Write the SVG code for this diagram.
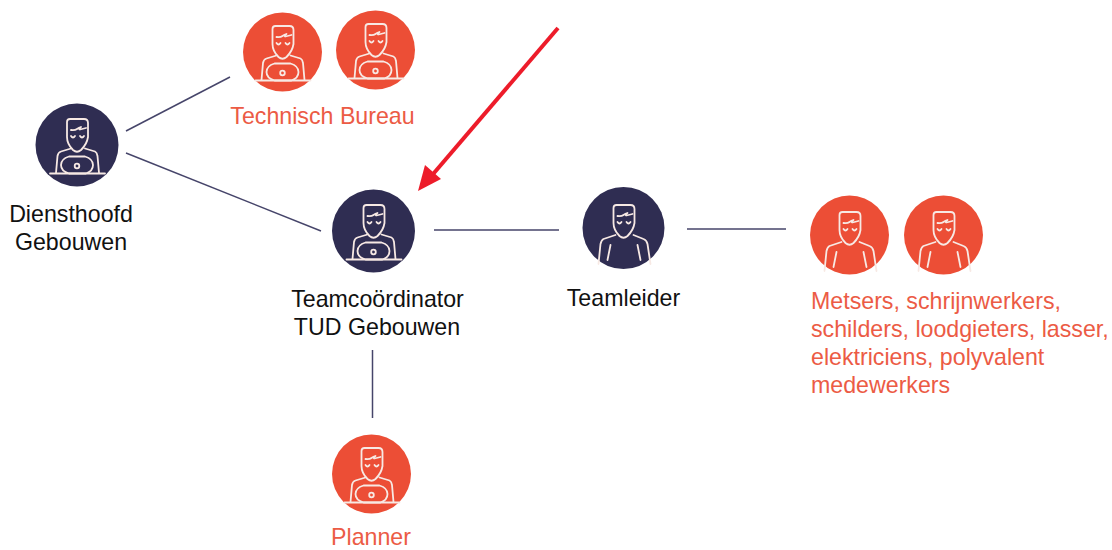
<svg xmlns="http://www.w3.org/2000/svg" xmlns:xlink="http://www.w3.org/1999/xlink" width="1112" height="550" viewBox="0 0 1112 550">
<style>
text{font-family:"Liberation Sans",Arial,sans-serif;font-size:23.2px;text-anchor:middle;fill:#111}
.o{fill:#ec4e36}
.d{fill:#2f2d52}
text.o{fill:#ec5b45}
text.l{text-anchor:start}
.a{fill:none;stroke:#f7e9e4;stroke-width:1.8;stroke-linecap:round;stroke-linejoin:round}
.c{fill:none;stroke:#46456a;stroke-width:1.5}
</style>
<defs>
<g id="head" class="a">
<path d="M-10-8V-23Q-10-26-7-26H7Q11-26 11-22V-8Q10-1 4 5Q0 8.500-4 5Q-10-1-10-8Z"/>
<path d="M-6-15Q-2-14.500 0-16T4-18Q1-16 3-15.500L9-17M-6-9Q-4-6-2-9M3-9Q5-6 7-9"/>
</g>
<g id="lap">
<use href="#head"/>
<g class="a">
<path d="M-6 3.500L-16 6.500Q-19 7.500-19.500 11L-21 28M8 3.500L18 6.500Q20 7.500 20.500 11L22 28"/>
<path d="M-8 11.500H8Q16 14 16 20Q16 26 9 28.500H-8Q-16 26-16 20Q-16 14-8 11.500Z"/>
<circle cx="0" cy="21" r="2.300"/>
<path d="M-27 28.500H28"/>
</g>
</g>
<g id="bust">
<use href="#head" y="3"/>
<path class="a" d="M-8 7L-20 11Q-22 12-23 16L-25 36M10 7L20 11Q23 12 24 16L27 36M-13 17L-16 32M14 17L17 32"/>
</g>
</defs>
<g id="connectors" class="c">
<path d="M126 131L230 77"/>
<path d="M126 153L321 231"/>
<path d="M434 230H559"/>
<path d="M687 229H786"/>
<path d="M372.500 350V418"/>
</g>
<g id="arrow">
<path d="M558 28L428 180" fill="none" stroke="#ed1c2a" stroke-width="4"/>
<path d="M418 191L441 179L425 165Z" fill="#ed1c2a"/>
</g>
<g id="diensthoofd"><circle class="d" cx="77" cy="145" r="41.500"/><use href="#lap" x="77" y="145"/><text x="71" y="221.500">Diensthoofd</text><text x="71" y="249.500">Gebouwen</text></g>
<g id="technisch-1"><circle class="o" cx="282.500" cy="52" r="39.500"/><use href="#lap" x="282.500" y="52"/></g>
<g id="technisch-2"><circle class="o" cx="375.500" cy="50" r="39.500"/><use href="#lap" x="375.500" y="50"/><text class="o" x="322.500" y="124">Technisch Bureau</text></g>
<g id="teamcoordinator"><circle class="d" cx="373.500" cy="231" r="41.500"/><use href="#lap" x="373.500" y="231"/><text x="377.500" y="306.500">Teamcoördinator</text><text x="377" y="334.500">TUD Gebouwen</text></g>
<g id="teamleider"><circle class="d" cx="623.500" cy="228" r="41"/><use href="#bust" x="623.500" y="228"/><text x="623.500" y="306">Teamleider</text></g>
<g id="uitvoerders-1"><circle class="o" cx="849.500" cy="235" r="39.500"/><use href="#bust" x="849.500" y="235"/></g>
<g id="uitvoerders-2"><circle class="o" cx="943.500" cy="235" r="39.500"/><use href="#bust" x="943.500" y="235"/>
<text class="o l" x="811" y="308.500">Metsers, schrijnwerkers,</text><text class="o l" x="811" y="336.500">schilders, loodgieters, lasser,</text><text class="o l" x="811" y="364.500">elektriciens, polyvalent</text><text class="o l" x="811" y="392.500">medewerkers</text></g>
<g id="planner"><circle class="o" cx="371.500" cy="474" r="39.500"/><use href="#lap" x="371.500" y="474"/><text class="o" x="371" y="545">Planner</text></g>
</svg>
